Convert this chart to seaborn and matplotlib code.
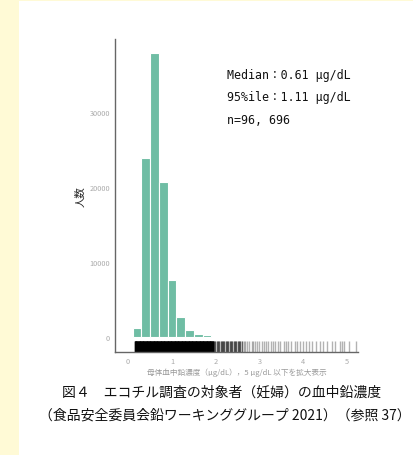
import numpy as np
import pandas as pd
import matplotlib
matplotlib.use("Agg")
import matplotlib.pyplot as plt
import seaborn as sns
from matplotlib.patches import Rectangle

# Histogram bins (µg/dL) and counts
bin_edges = [0.1, 0.3, 0.5, 0.7, 0.9, 1.1, 1.3, 1.5, 1.7, 1.9]
bin_counts = [1240, 23800, 37900, 20700, 7550, 2670, 980, 400, 200]

# Rug: values are reported at 0.01 µg/dL resolution, dense part covers 0.15-1.95
rug_dense = [0.15, 1.95, 0.01]
rug_mid = [1.96, 1.99, 2.02, 2.05, 2.08, 2.11, 2.14, 2.17, 2.2, 2.23, 2.26, 2.29,
           2.32, 2.35, 2.38, 2.41, 2.44, 2.47, 2.5, 2.53, 2.56, 2.6]
rug_sparse = [2.64, 2.68, 2.72, 2.77, 2.82, 2.86, 2.9, 2.95, 3.0, 3.05, 3.1, 3.15,
              3.2, 3.26, 3.31, 3.36, 3.42, 3.47, 3.55, 3.6, 3.66, 3.72, 3.8, 3.86,
              3.93, 4.0, 4.06, 4.12, 4.2, 4.3, 4.38, 4.45, 4.55, 4.65, 4.72, 4.85,
              4.88, 4.92, 5.05, 5.2]

y_ticks = [0, 10000, 20000, 30000]
x_ticks = [0, 1, 2, 3, 4, 5]

stats_lines = ["Median：0.61 μg/dL", "95%ile：1.11 μg/dL", "n=96, 696"]
caption1 = "図４　エコチル調査の対象者（妊婦）の血中鉛濃度"
caption2 = "（食品安全委員会鉛ワーキンググループ 2021）（参照 37）"
x_label = "母体血中鉛濃度（μg/dL），5 μg/dL 以下を拡大表示"
y_label = "人数"

sns.set_style("white")
plt.rcParams['font.family'] = ['Noto Sans CJK JP', 'DejaVu Sans']

centers = [(a + b) / 2 for a, b in zip(bin_edges[:-1], bin_edges[1:])]
df = pd.DataFrame({"conc": centers, "n": bin_counts})

fig = plt.figure(figsize=(4.14, 4.56), dpi=100, facecolor="#fffad6")
fig.add_artist(Rectangle((19 / 414, 0), 1, 1 - 2 / 456, transform=fig.transFigure,
                         facecolor="white", edgecolor="none", zorder=-1))
ax = fig.add_axes([115 / 414, 1 - 353 / 456, 243 / 414, 313 / 456])

sns.histplot(data=df, x="conc", weights="n", bins=bin_edges, ax=ax,
             color="#6fbda4", alpha=1, edgecolor="white", linewidth=0.8)

dense = np.round(np.arange(*rug_dense), 2)
sns.rugplot(x=np.concatenate([rug_mid, rug_sparse]), ax=ax, height=0.034,
            color="black", alpha=0.3, lw=1.1)
sns.rugplot(x=rug_mid, ax=ax, height=0.034, color="black", alpha=0.45, lw=1.1)
sns.rugplot(x=dense, ax=ax, height=0.034, color="black", alpha=1, lw=1.0)

ax.set_xlim(-0.3, 5.25)
ax.set_ylim(-2000, 39700)
ax.set_xticks(x_ticks)
ax.set_yticks(y_ticks)
ax.tick_params(axis="both", labelsize=5.3, colors="#aaaaaa", length=2, width=0.6,
               pad=1.5)
ax.set_xlabel(x_label, fontsize=5.5, color="#999999", labelpad=2)
ax.set_ylabel(y_label, fontsize=7.5, color="#222222", labelpad=3)
for s in ["top", "right"]:
    ax.spines[s].set_visible(False)
for s in ["left", "bottom"]:
    ax.spines[s].set_color("#666666")
    ax.spines[s].set_linewidth(1.0)

for i, line in enumerate(stats_lines):
    fig.text(227 / 414, 1 - (75 + 23 * i) / 456, line, fontsize=8.4,
             family=['DejaVu Sans Mono', 'Noto Sans CJK JP'],
             va="center", ha="left", color="#111111")

fig.text(222 / 414, 1 - 393 / 456, caption1, fontsize=10, ha="center",
         va="center", color="#111111")
fig.text(225 / 414, 1 - 416 / 456, caption2, fontsize=10, ha="center",
         va="center", color="#111111")

fig.savefig("out.png", dpi=100, facecolor=fig.get_facecolor())
